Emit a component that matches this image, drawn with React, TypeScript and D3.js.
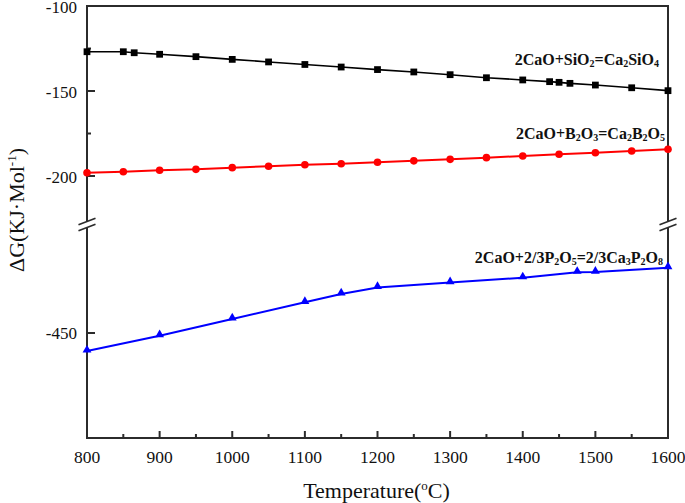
import React from "react";
import * as d3 from "d3";

const tempSiO2 = [800, 850, 865, 900, 950, 1000, 1050, 1100, 1150, 1200, 1250, 1300, 1350, 1400, 1437, 1450, 1465, 1500, 1550, 1600];
const gSiO2 = [-126.9, -126.9, -127.5, -128.4, -129.8, -131.4, -132.9, -134.4, -135.9, -137.4, -138.8, -140.4, -142.2, -143.5, -144.5, -144.9, -145.5, -146.5, -148.1, -149.8];

const tempB2O3 = [800, 850, 900, 950, 1000, 1050, 1100, 1150, 1200, 1250, 1300, 1350, 1400, 1450, 1500, 1550, 1600];
const gB2O3 = [-198.1, -197.5, -196.6, -196.1, -195.1, -194.3, -193.4, -192.8, -191.9, -191.1, -190.2, -189.2, -188.2, -187.2, -186.3, -185.3, -184.3];

const tempP2O5 = [800, 900, 1000, 1100, 1150, 1200, 1300, 1400, 1475, 1500, 1600];
const gP2O5 = [-458.6, -451.3, -443.3, -435.4, -431.4, -428.3, -426.0, -423.7, -421.1, -421.0, -418.9];

const xMajorTicks = [800, 900, 1000, 1100, 1200, 1300, 1400, 1500, 1600];
const xMinorTicks = [850, 950, 1050, 1150, 1250, 1350, 1450, 1550];
const yTopMajor = [-100, -150, -200];
const yTopMinor = [-125, -175];
const yBotMajor = [-450];

const W = 685;
const H = 503;
const L = 87;
const R = 668;
const T = 6;
const B = 438;
const breakA = 221.5;
const breakB = 227.5;

const x = d3.scaleLinear().domain([800, 1600]).range([L, R]);
const yTop = d3.scaleLinear().domain([-100, -225]).range([T, 218.5]);
const yBot = d3.scaleLinear().domain([-400, -500]).range([228, B]);

const serif = "'Liberation Serif', 'Times New Roman', serif";
const axisColor = "#2b2b2b";

type Pt = [number, number];

function Sub({ children }: { children: React.ReactNode }) {
  return (
    <tspan fontSize={10} dy={1.5}>
      {children}
    </tspan>
  );
}
function Up({ children }: { children: React.ReactNode }) {
  return <tspan dy={-1.5}>{children}</tspan>;
}

export default function App() {
  const sPts: Pt[] = tempSiO2.map((t, i) => [x(t), yTop(gSiO2[i])]);
  const bPts: Pt[] = tempB2O3.map((t, i) => [x(t), yTop(gB2O3[i])]);
  const pPts: Pt[] = tempP2O5.map((t, i) => [x(t), yBot(gP2O5[i])]);
  const line = d3.line<Pt>().x((d) => d[0]).y((d) => d[1]);
  const sq = d3.symbol().type(d3.symbolSquare).size(46)() as string;
  const tri = d3.symbol().type(d3.symbolTriangle).size(34)() as string;

  const breakMark = (cx: number, cy: number, k: string) => (
    <line key={k} x1={cx - 8.5} y1={cy + 3.3} x2={cx + 8.5} y2={cy - 3.3} stroke={axisColor} strokeWidth={1.6} />
  );

  return (
    <svg width={W} height={H} style={{ position: "absolute", left: 0, top: 0, background: "#fff" }} fontFamily={serif}>
      {/* frame */}
      <line x1={L} y1={T} x2={R} y2={T} stroke={axisColor} strokeWidth={2} />
      <line x1={L} y1={B} x2={R} y2={B} stroke={axisColor} strokeWidth={2} />
      <line x1={L} y1={T - 1} x2={L} y2={breakA} stroke={axisColor} strokeWidth={2} />
      <line x1={L} y1={breakB} x2={L} y2={B + 1} stroke={axisColor} strokeWidth={2} />
      <line x1={R} y1={T - 1} x2={R} y2={breakA} stroke={axisColor} strokeWidth={2} />
      <line x1={R} y1={breakB} x2={R} y2={B + 1} stroke={axisColor} strokeWidth={2} />
      {breakMark(L, breakA, "l1")}
      {breakMark(L, breakB, "l2")}
      {breakMark(R, breakA, "r1")}
      {breakMark(R, breakB, "r2")}

      {/* x ticks */}
      {xMajorTicks.map((t) => (
        <g key={"xm" + t}>
          <line x1={x(t)} x2={x(t)} y1={B} y2={B - 7} stroke={axisColor} strokeWidth={2} />
          <text x={x(t)} y={462.5} textAnchor="middle" fontSize={17.5} fill="#111">
            {t}
          </text>
        </g>
      ))}
      {xMinorTicks.map((t) => (
        <line key={"xn" + t} x1={x(t)} x2={x(t)} y1={B} y2={B - 4} stroke={axisColor} strokeWidth={2} />
      ))}

      {/* y ticks */}
      {yTopMajor.map((v) => (
        <g key={"ym" + v}>
          <line x1={L} x2={L + 8} y1={yTop(v)} y2={yTop(v)} stroke={axisColor} strokeWidth={2} />
          <text x={77} y={yTop(v) + 6.5} textAnchor="end" fontSize={17} fill="#111">
            {v}
          </text>
        </g>
      ))}
      {yTopMinor.map((v) => (
        <line key={"yn" + v} x1={L} x2={L + 4} y1={yTop(v)} y2={yTop(v)} stroke={axisColor} strokeWidth={2} />
      ))}
      {yBotMajor.map((v) => (
        <g key={"yb" + v}>
          <line x1={L} x2={L + 8} y1={yBot(v)} y2={yBot(v)} stroke={axisColor} strokeWidth={2} />
          <text x={77} y={yBot(v) + 6} textAnchor="end" fontSize={17} fill="#111">
            {v}
          </text>
        </g>
      ))}

      {/* series */}
      <path d={line(sPts) as string} fill="none" stroke="#000" strokeWidth={1.6} />
      {sPts.map((p, i) => (
        <path key={"s" + i} d={sq} transform={`translate(${p[0]},${p[1]})`} fill="#000" />
      ))}
      <path d={line(bPts) as string} fill="none" stroke="#ff0000" strokeWidth={2} />
      {bPts.map((p, i) => (
        <circle key={"b" + i} cx={p[0]} cy={p[1]} r={3.8} fill="#ff0000" />
      ))}
      <path d={line(pPts) as string} fill="none" stroke="#0000ff" strokeWidth={2} />
      {pPts.map((p, i) => (
        <path key={"p" + i} d={tri} transform={`translate(${p[0]},${p[1] - 1})`} fill="#0000ff" />
      ))}

      {/* series labels */}
      <text x={659} y={65} textAnchor="end" fontSize={16} fontWeight="bold" fill="#111">
        2CaO+SiO<Sub>2</Sub>
        <Up>=Ca</Up>
        <Sub>2</Sub>
        <Up>SiO</Up>
        <Sub>4</Sub>
      </text>
      <text x={665} y={139} textAnchor="end" fontSize={16} fontWeight="bold" fill="#111">
        2CaO+B<Sub>2</Sub>
        <Up>O</Up>
        <Sub>3</Sub>
        <Up>=Ca</Up>
        <Sub>2</Sub>
        <Up>B</Up>
        <Sub>2</Sub>
        <Up>O</Up>
        <Sub>5</Sub>
      </text>
      <text x={663} y={263} textAnchor="end" fontSize={16} fontWeight="bold" fill="#111">
        2CaO+2/3P<Sub>2</Sub>
        <Up>O</Up>
        <Sub>5</Sub>
        <Up>=2/3Ca</Up>
        <Sub>3</Sub>
        <Up>P</Up>
        <Sub>2</Sub>
        <Up>O</Up>
        <Sub>8</Sub>
      </text>

      {/* axis titles */}
      <text x={(L + R) / 2 - 1} y={498} textAnchor="middle" fontSize={22} fill="#111">
        Temperature(
        <tspan fontSize={13} dy={-8}>
          o
        </tspan>
        <tspan dy={8}>C)</tspan>
      </text>
      <text transform={`translate(24,210) rotate(-90)`} textAnchor="middle" fontSize={22} fill="#111">
        ΔG(KJ·Mol
        <tspan fontSize={13} dy={-8}>
          -1
        </tspan>
        <tspan dy={8}>)</tspan>
      </text>
    </svg>
  );
}
